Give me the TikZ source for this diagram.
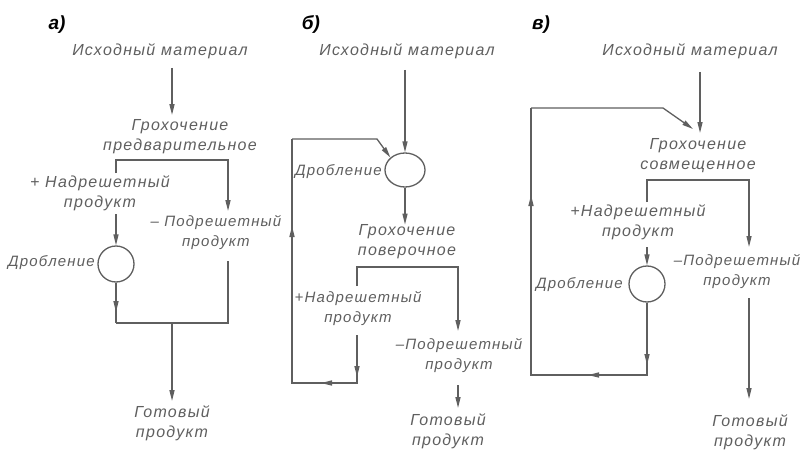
\documentclass[tikz,border=0pt]{standalone}
\usepackage{fontspec}
\setmainfont{Liberation Sans}
\newfontfamily\hwfont{Liberation Sans}[LetterSpace=8]
\usetikzlibrary{arrows.meta,calc,shapes.geometric}
\definecolor{ink}{RGB}{95,95,95}
\tikzset{
  txt/.style={font=\hwfont\itshape\fontsize{16}{20}\selectfont, text=ink, align=center, inner sep=0pt},
  smalltxt/.style={txt, font=\hwfont\itshape\fontsize{15}{20}\selectfont},
  panel/.style={font=\bfseries\itshape\fontsize{19}{22}\selectfont, text=black, inner sep=0pt},
  ln/.style={draw=ink, line width=1.3pt},
  arr/.style={ln, -{Triangle[length=11pt,width=5pt]}},
  mill/.style={draw=ink, line width=1.3pt, ellipse, minimum width=#1, minimum height=34pt, inner sep=0pt},
}
\begin{document}
\begin{tikzpicture}[x=1pt,y=-1pt]
\useasboundingbox (0,0) rectangle (803,452);
\fill[white] (0,0) rectangle (803,452);

% ---------------- panel a
\node[panel] (aLab) at (57,25) {а)};
\node[txt] (aSrc) at (160,51) {Исходный материал};
\node[txt] (aScr) at (180,137) {Грохочение\\предварительное};
\node[txt] (aOver) at (100,193) {+ Надрешетный\\продукт};
\node[smalltxt] (aUnder) at (216,233) {– Подрешетный\\продукт};
\node[mill=36pt, minimum height=36pt] (aMill) at (116,264) {};
\node[smalltxt, anchor=east] (aMillL) at (95,263) {Дробление};
\node[txt] (aOut) at (172,423) {Готовый\\продукт};

\coordinate (aIn1) at (172,68);
\coordinate (aIn2) at (172,115);
\coordinate (aBL) at (116,173);
\coordinate (aBLt) at (116,160);
\coordinate (aBRt) at (228,160);
\coordinate (aBR) at (228,211);
\coordinate (aOL) at (116,214);
\coordinate (aUR) at (228,261);
\coordinate (aJL) at (116,323);
\coordinate (aJR) at (228,323);
\coordinate (aJM) at (172,323);
\coordinate (aOutT) at (172,401);
\coordinate (aMid) at (116,312);

\draw[arr] (aIn1) -- (aIn2);
\draw[arr] (aBL) -- (aBLt) -- (aBRt) -- (aBR);
\draw[arr] (aOL) -- (aMill.north);
\draw[ln] (aMill.south) -- (aJL);
\draw[arr] (aMill.south) -- (aMid);
\draw[ln] (aUR) -- (aJR) -- (aJL);
\draw[arr] (aJM) -- (aOutT);

% ---------------- panel b
\node[panel] (bLab) at (311,25) {б)};
\node[txt] (bSrc) at (407,51) {Исходный материал};
\node[mill=40pt] (bMill) at (405,170) {};
\node[smalltxt, anchor=east] (bMillL) at (382,172) {Дробление};
\node[txt] (bScr) at (407,242) {Грохочение\\поверочное};
\node[smalltxt] (bOver) at (358,309) {+Надрешетный\\продукт};
\node[smalltxt] (bUnder) at (459,356) {–Подрешетный\\продукт};
\node[txt] (bOut) at (448,431) {Готовый\\продукт};

\coordinate (bIn1) at (405,70);
\coordinate (bBL) at (357,286);
\coordinate (bBLt) at (357,267);
\coordinate (bBRt) at (458,267);
\coordinate (bBR) at (458,331);
\coordinate (bOL) at (357,335);
\coordinate (bOLb) at (357,383);
\coordinate (bLb) at (292,383);
\coordinate (bLt) at (292,139);
\coordinate (bKink) at (377,139);
\coordinate (bU1) at (458,385);
\coordinate (bU2) at (458,408);
\coordinate (bM1) at (357,377);
\coordinate (bM2) at (321,383);
\coordinate (bM3) at (292,226);

\draw[arr] (bIn1) -- (bMill.north);
\draw[arr] (bMill.south) -- (bMill.south |- bScr.north);
\draw[arr] (bBL) -- (bBLt) -- (bBRt) -- (bBR);
\draw[ln] (bOL) -- (bOLb) -- (bLb) -- (bLt);
\draw[arr] (bOL) -- (bM1);
\draw[arr] (bOLb) -- (bM2);
\draw[arr] (bLb) -- (bM3);
\draw[arr] (bLt) -- (bKink) -- (bMill.north west);
\draw[arr] (bU1) -- (bU2);

% ---------------- panel c
\node[panel] (cLab) at (541,25) {в)};
\node[txt] (cSrc) at (690,51) {Исходный материал};
\node[txt] (cScr) at (698,156) {Грохочение\\совмещенное};
\node[txt] (cOver) at (638,222) {+Надрешетный\\продукт};
\node[smalltxt] (cUnder) at (737,272) {–Подрешетный\\продукт};
\node[mill=36pt, minimum height=36pt] (cMill) at (647,284) {};
\node[smalltxt, anchor=east] (cMillL) at (623,285) {Дробление};
\node[txt] (cOut) at (750,432) {Готовый\\продукт};

\coordinate (cIn1) at (700,72);
\coordinate (cIn2) at (700,133);
\coordinate (cKinkT) at (663,108);
\coordinate (cKinkE) at (693,129);
\coordinate (cLt) at (531,108);
\coordinate (cLb) at (531,375);
\coordinate (cBL) at (647,202);
\coordinate (cBLt) at (647,180);
\coordinate (cBRt) at (749,180);
\coordinate (cBR) at (749,247);
\coordinate (cOL) at (647,247);
\coordinate (cMb) at (647,375);
\coordinate (cU1) at (749,298);
\coordinate (cU2) at (749,399);
\coordinate (cM1) at (531,195);
\coordinate (cM2) at (647,365);
\coordinate (cM3) at (588,375);

\draw[arr] (cIn1) -- (cIn2);
\draw[arr] (cLt) -- (cKinkT) -- (cKinkE);
\draw[ln] (cMill.south) -- (cMb) -- (cLb) -- (cLt);
\draw[arr] (cLb) -- (cM1);
\draw[arr] (cMill.south) -- (cM2);
\draw[arr] (cMb) -- (cM3);
\draw[arr] (cBL) -- (cBLt) -- (cBRt) -- (cBR);
\draw[arr] (cOL) -- (cMill.north);
\draw[arr] (cU1) -- (cU2);
\end{tikzpicture}
\end{document}
